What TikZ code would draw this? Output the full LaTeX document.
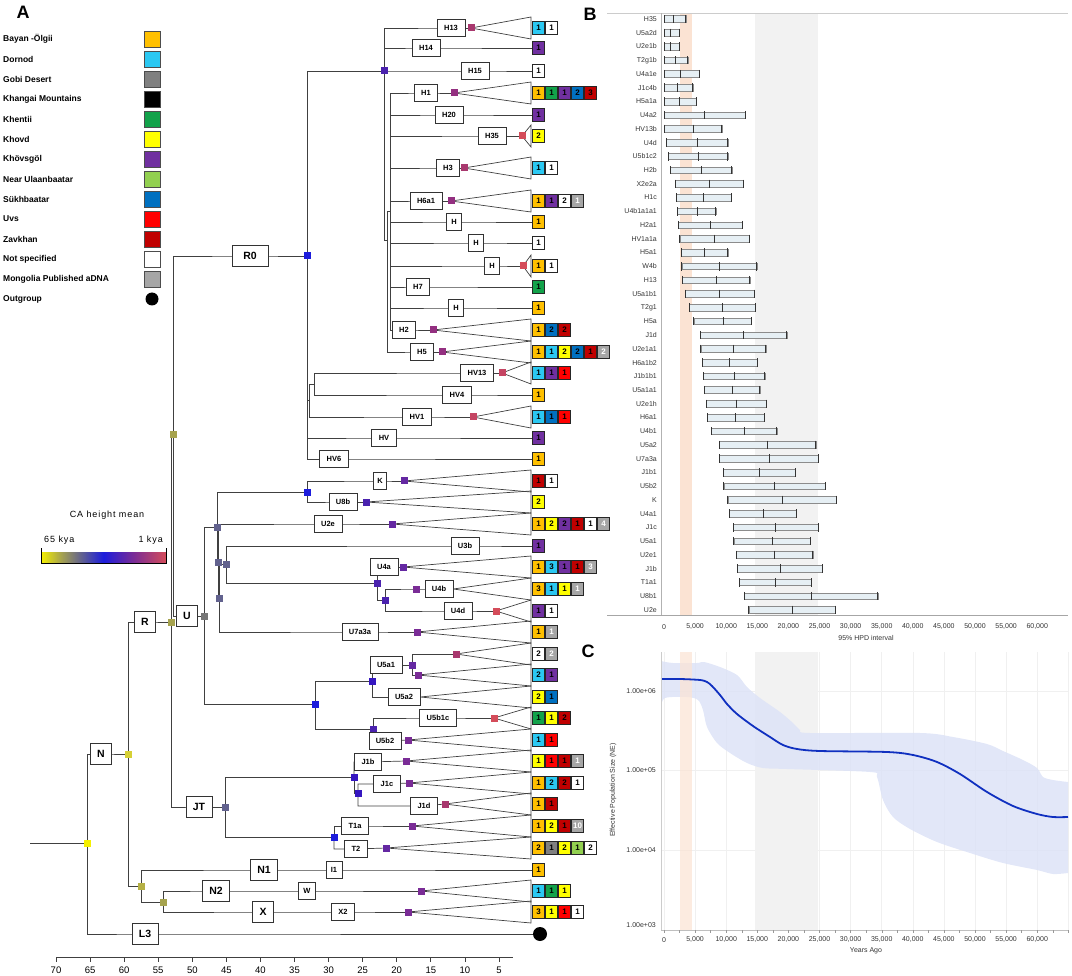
\documentclass[tikz,border=0pt]{standalone}
\usepackage{fontspec}
\setmainfont{Liberation Sans}
\newfontfamily\spaced[LetterSpace=10]{Liberation Sans}
\usetikzlibrary{backgrounds}

% region colours
\definecolor{BO}{HTML}{FFC000}
\definecolor{DO}{HTML}{2BC8F2}
\definecolor{GO}{HTML}{808080}
\definecolor{KM}{HTML}{000000}
\definecolor{KE}{HTML}{12A24A}
\definecolor{KH}{HTML}{FFFF00}
\definecolor{KV}{HTML}{7030A0}
\definecolor{NU}{HTML}{92D050}
\definecolor{SU}{HTML}{0070C0}
\definecolor{UV}{HTML}{FF0000}
\definecolor{ZA}{HTML}{C00000}
\definecolor{NS}{HTML}{FFFFFF}
\definecolor{MP}{HTML}{A6A6A6}
\colorlet{txBO}{black}\colorlet{txDO}{black}\colorlet{txGO}{black}
\colorlet{txKE}{black}\colorlet{txKH}{black}\colorlet{txKV}{black}
\colorlet{txNU}{black}\colorlet{txSU}{black}\colorlet{txUV}{black}
\colorlet{txZA}{black}\colorlet{txNS}{black}\colorlet{txMP}{white}
% node heights (65 kya -> 1 kya)
\definecolor{ha}{HTML}{F5F000}
\definecolor{hb}{HTML}{D6D035}
\definecolor{hc}{HTML}{B5B045}
\definecolor{hd}{HTML}{A6A34E}
\definecolor{he}{HTML}{767676}
\definecolor{hf}{HTML}{62628E}
\definecolor{hg}{HTML}{1C1CDC}
\definecolor{hh}{HTML}{3516C0}
\definecolor{hi}{HTML}{4A22AE}
\definecolor{hj}{HTML}{6428A2}
\definecolor{hk}{HTML}{7A2C96}
\definecolor{hl}{HTML}{932F80}
\definecolor{hm}{HTML}{A8386E}
\definecolor{hn}{HTML}{C44462}
\definecolor{ho}{HTML}{D44C5A}
\definecolor{medline}{HTML}{1030C0}
\definecolor{hpdband}{HTML}{DDE3F7}
\definecolor{peach}{HTML}{FBE3D3}
\definecolor{lgm}{HTML}{F2F2F2}
\definecolor{barfill}{HTML}{E6EFF4}

\pgfdeclarehorizontalshading{cabar}{100bp}{color(0bp)=(ha); color(25bp)=(ha);
  color(33bp)=(hd); color(41bp)=(hf); color(50bp)=(hg); color(62bp)=(hk);
  color(75bp)=(ho); color(100bp)=(ho)}

\newcommand{\tips}[3]{%
  \foreach \col/\cnt [count=\k from 0] in {#3}{%
    \node[tip, fill=\col, text=tx\col] (#1-\k) at (538.5+13*\k,#2) {\cnt};}}
\newcommand{\tri}[2]{\draw (#1) -- (531,#2-11) -- (531,#2+11) -- cycle;}

\begin{document}
\begin{tikzpicture}[x=1pt, y=-1pt,
  lab/.style={draw=black!80, fill=white, line width=0.6pt, font=\bfseries\fontsize{7.5}{9}\selectfont, inner xsep=7pt, inner ysep=1pt, minimum height=17pt},
  labs/.style={lab, inner xsep=5pt},
  big/.style={lab, font=\bfseries\fontsize{10.5}{12}\selectfont, minimum height=21pt, minimum width=21pt, inner xsep=7pt},
  sq/.style={rectangle, fill=#1, minimum size=7pt, inner sep=0pt},
  tip/.style={draw=black!85, line width=0.5pt, minimum width=12pt, minimum height=13pt, inner sep=0pt, font=\bfseries\fontsize{8}{8}\selectfont},
  legtxt/.style={anchor=west, inner sep=0pt, font=\bfseries\fontsize{8.5}{10}\selectfont},
  swatch/.style={draw=black!70, minimum size=16pt, inner sep=0pt},
  panel/.style={font=\bfseries\fontsize{18}{18}\selectfont, inner sep=0pt},
  hpdlab/.style={anchor=east, font=\fontsize{7}{8}\selectfont, text=black!80, inner sep=0pt},
  ax/.style={font=\fontsize{7}{8}\selectfont, text=black!80, inner sep=0pt}]
\useasboundingbox (0,0) rectangle (1072,976);

% ---------- panel A: legend
\node[panel] (pA) at (23,12) {A};
\foreach \col/\lgtxt [count=\i from 0] in {BO/Bayan -Ölgii, DO/Dornod, GO/Gobi Desert,
  KM/Khangai Mountains, KE/Khentii, KH/Khovd, KV/Khövsgöl, NU/Near Ulaanbaatar,
  SU/Sükhbaatar, UV/Uvs, ZA/Zavkhan, NS/Not specified, MP/Mongolia Published aDNA}{
  \node[legtxt] (lt\i) at (3,39+20*\i) {\lgtxt};
  \node[swatch, fill=\col] (ls\i) at (152,39+20*\i) {};
}
\node[legtxt] (lt13) at (3,299) {Outgroup};
\node[circle, fill=black, minimum size=13pt, inner sep=0pt] (ls13) at (152,299) {};

% colour bar
\node[font=\spaced\fontsize{9}{10}\selectfont] (cat) at (107,515) {CA height mean};
\node[font=\spaced\fontsize{9}{10}\selectfont, anchor=west, inner sep=0pt] (cak1) at (44,540) {65 kya};
\node[font=\spaced\fontsize{9}{10}\selectfont, anchor=east, inner sep=0pt] (cak2) at (163,540) {1 kya};
\shade[shading=cabar] (41,552) rectangle (166,563);
\draw[line width=0.6pt] (41,548) -- (41,563) -- (166,563) -- (166,548);

% ---------- tree: internal nodes
\node[sq=ha] (nRoot) at (87,843) {};
\node[sq=hb] (nN) at (128,754) {};
\node[sq=hc] (nNp) at (141,886) {};
\node[sq=hd] (nN2X) at (163,902) {};
\node[sq=hd] (nR) at (171,622) {};
\node[sq=hd] (nRU) at (173,435) {};
\node[sq=hg] (nR0) at (307,256) {};
\node[sq=hi] (nH) at (384,71) {};
\coordinate (nHs2) at (387,240);
\coordinate (nHs1) at (390,211);
\coordinate (nHVb) at (309,400);
\coordinate (nHVa) at (314,384);
\node[sq=he] (nU) at (204,616) {};
\node[sq=hf] (nUA) at (217,527) {};
\node[sq=hf] (nUB) at (218,562) {};
\node[sq=hf] (nUC) at (219,598) {};
\node[sq=hf] (nUD) at (226,564) {};
\node[sq=hg] (nK8) at (307,492) {};
\node[sq=hi] (nU4) at (377,583) {};
\node[sq=hi] (nU4bd) at (385,600) {};
\node[sq=hg] (nU5) at (315,704) {};
\node[sq=hh] (nU5a) at (372,681) {};
\node[sq=hj] (nU5a1) at (412,665) {};
\node[sq=hi] (nU5b) at (373,729) {};
\node[sq=hf] (nJT) at (225,807) {};
\node[sq=hh] (nJ1) at (354,777) {};
\node[sq=hh] (nJ1cd) at (358,793) {};
\node[sq=hg] (nT) at (334,837) {};
\coordinate (stem) at (30,843);

% big labels
\node[big, minimum width=36pt] (bR0) at (250,256) {R0};
\node[big] (bR) at (145,622) {R};
\node[big] (bU) at (187,616) {U};
\node[big] (bJT) at (199,807) {JT};
\node[big] (bN) at (101,754) {N};
\node[big] (bN1) at (264,870) {N1};
\node[big] (bN2) at (216,891) {N2};
\node[big] (bX) at (263,912) {X};
\node[big] (bL3) at (145,934) {L3};

% haplogroup rows
\node[lab] (bH13) at (451,28) {H13};      \node[sq=hm] (sH13) at (471,28) {};
\node[lab] (bH14) at (426,48) {H14};
\node[lab] (bH15) at (475,71) {H15};
\node[lab] (bH1) at (426,93) {H1};        \node[sq=hl] (sH1) at (454,93) {};
\node[lab] (bH20) at (449,115) {H20};
\node[lab] (bH35) at (492,136) {H35};     \node[sq=ho] (sH35) at (522,136) {};
\node[lab] (bH3) at (448,168) {H3};       \node[sq=hm] (sH3) at (464,168) {};
\node[lab] (bH6a1) at (426,201) {H6a1};   \node[sq=hl] (sH6a1) at (451,201) {};
\node[labs] (bHa) at (454,222) {H};
\node[labs] (bHb) at (476,243) {H};
\node[labs] (bHc) at (492,266) {H};       \node[sq=ho] (sHc) at (523,266) {};
\node[lab] (bH7) at (418,287) {H7};
\node[labs] (bHd) at (456,308) {H};
\node[lab] (bH2) at (404,330) {H2};       \node[sq=hl] (sH2) at (433,330) {};
\node[lab] (bH5) at (422,352) {H5};       \node[sq=hl] (sH5) at (442,352) {};
\node[lab] (bHV13) at (477,373) {HV13};   \node[sq=hn] (sHV13) at (502,373) {};
\node[lab] (bHV4) at (457,395) {HV4};
\node[lab] (bHV1) at (417,417) {HV1};     \node[sq=hn] (sHV1) at (473,417) {};
\node[lab] (bHV) at (384,438) {HV};
\node[lab] (bHV6) at (334,459) {HV6};
\node[labs, inner xsep=4pt] (bK) at (380,481) {K};  \node[sq=hj] (sK) at (404,481) {};
\node[lab] (bU8b) at (343,502) {U8b};     \node[sq=hi] (sU8b) at (366,502) {};
\node[lab] (bU2e) at (328,524) {U2e};     \node[sq=hj] (sU2e) at (392,524) {};
\node[lab] (bU3b) at (465,546) {U3b};
\node[lab] (bU4a) at (384,567) {U4a};     \node[sq=hj] (sU4a) at (403,567) {};
\node[sq=hk] (sU4b) at (416,589) {};      \node[lab] (bU4b) at (439,589) {U4b};
\node[lab] (bU4d) at (458,611) {U4d};     \node[sq=ho] (sU4d) at (496,611) {};
\node[lab] (bU7a3a) at (360,632) {U7a3a}; \node[sq=hk] (sU7a3a) at (417,632) {};
\node[sq=hm] (sU5c1) at (456,654) {};
\node[sq=hk] (sU5c2) at (418,675) {};
\node[lab] (bU5a1) at (386,665) {U5a1};
\node[lab] (bU5a2) at (404,697) {U5a2};
\node[lab] (bU5b1c) at (438,718) {U5b1c}; \node[sq=ho] (sU5b1c) at (494,718) {};
\node[lab] (bU5b2) at (385,741) {U5b2};   \node[sq=hk] (sU5b2) at (408,740) {};
\node[lab] (bJ1b) at (368,762) {J1b};     \node[sq=hk] (sJ1b) at (406,761) {};
\node[lab] (bJ1c) at (387,784) {J1c};     \node[sq=hk] (sJ1c) at (409,783) {};
\node[lab] (bJ1d) at (424,806) {J1d};     \node[sq=hm] (sJ1d) at (445,804) {};
\node[lab] (bT1a) at (355,826) {T1a};     \node[sq=hk] (sT1a) at (412,826) {};
\node[lab] (bT2) at (356,849) {T2};       \node[sq=hj] (sT2) at (386,848) {};
\node[labs] (bI1) at (334,870) {I1};
\node[labs] (bW) at (307,891) {W};        \node[sq=hk] (sW) at (421,891) {};
\node[lab] (bX2) at (343,912) {X2};       \node[sq=hk] (sX2) at (408,912) {};
\node[circle, fill=black, minimum size=14pt, inner sep=0pt] (dot) at (540,934) {};

% tip counts
\tips{tH13}{28}{DO/1,NS/1}
\tips{tH14}{48}{KV/1}
\tips{tH15}{71}{NS/1}
\tips{tH1}{93}{BO/1,KE/1,KV/1,SU/2,ZA/3}
\tips{tH20}{115}{KV/1}
\tips{tH35}{136}{KH/2}
\tips{tH3}{168}{DO/1,NS/1}
\tips{tH6a1}{201}{BO/1,KV/1,NS/2,MP/1}
\tips{tHa}{222}{BO/1}
\tips{tHb}{243}{NS/1}
\tips{tHc}{266}{BO/1,NS/1}
\tips{tH7}{287}{KE/1}
\tips{tHd}{308}{BO/1}
\tips{tH2}{330}{BO/1,SU/2,ZA/2}
\tips{tH5}{352}{BO/1,DO/1,KH/2,SU/2,ZA/1,MP/2}
\tips{tHV13}{373}{DO/1,KV/1,UV/1}
\tips{tHV4}{395}{BO/1}
\tips{tHV1}{417}{DO/1,SU/1,UV/1}
\tips{tHV}{438}{KV/1}
\tips{tHV6}{459}{BO/1}
\tips{tK}{481}{ZA/1,NS/1}
\tips{tU8b}{502}{KH/2}
\tips{tU2e}{524}{BO/1,KH/2,KV/2,ZA/1,NS/1,MP/4}
\tips{tU3b}{546}{KV/1}
\tips{tU4a}{567}{BO/1,DO/3,KV/1,ZA/1,MP/3}
\tips{tU4b}{589}{BO/3,DO/1,KH/1,MP/1}
\tips{tU4d}{611}{KV/1,NS/1}
\tips{tU7a3a}{632}{BO/1,MP/1}
\tips{tU5c1}{654}{NS/2,MP/2}
\tips{tU5c2}{675}{DO/2,KV/1}
\tips{tU5a2}{697}{KH/2,SU/1}
\tips{tU5b1c}{718}{KE/1,KH/1,ZA/2}
\tips{tU5b2}{740}{DO/1,UV/1}
\tips{tJ1b}{761}{KH/1,UV/1,ZA/1,MP/1}
\tips{tJ1c}{783}{BO/1,DO/2,ZA/2,NS/1}
\tips{tJ1d}{804}{BO/1,ZA/1}
\tips{tT1a}{826}{BO/1,KH/2,ZA/1,MP/10}
\tips{tT2}{848}{BO/2,GO/1,KH/2,NU/1,NS/2}
\tips{tN1}{870}{BO/1}
\tips{tW}{891}{DO/1,KE/1,KH/1}
\tips{tX2}{912}{BO/3,KH/1,UV/1,NS/1}

% branches
\begin{pgfonlayer}{background}
\begin{scope}[line width=0.7pt, draw=black!75]
\draw (stem) -- (nRoot.center);
\draw (nRoot.center) |- (bN.center) -- (nN.center);
\draw (nRoot.center) |- (bL3.center) -- (dot.center);
\draw (nN.center) |- (bR.center) -- (nR.center);
\draw (nN.center) |- (nNp.center);
\draw (nNp.center) |- (bN1.center) -- (bI1.center) -- (tN1-0.center);
\draw (nNp.center) |- (nN2X.center);
\draw (nN2X.center) |- (bN2.center) -- (bW.center) -- (sW.center);
\draw (nN2X.center) |- (bX.center) -- (bX2.center) -- (sX2.center);
\draw (nR.center) |- (nRU.center);
\draw (nR.center) |- (bJT.center) -- (nJT.center);
\draw (nRU.center) |- (bR0.center) -- (nR0.center);
\draw (nRU.center) |- (bU.center) -- (nU.center);
% R0
\draw (nR0.center) |- (nH.center);
\draw (nR0.center) |- (nHVb);
\draw (nR0.center) |- (bHV.center) -- (tHV-0.center);
\draw (nR0.center) |- (bHV6.center) -- (tHV6-0.center);
\draw (nHVb) |- (nHVa);
\draw (nHVb) |- (bHV1.center) -- (sHV1.center);
\draw (nHVa) |- (bHV13.center) -- (sHV13.center);
\draw (nHVa) |- (bHV4.center) -- (tHV4-0.center);
\draw (nH.center) -- (bH15.center) -- (tH15-0.center);
\draw (nH.center) |- (bH13.center) -- (sH13.center);
\draw (nH.center) |- (bH14.center) -- (tH14-0.center);
\draw (nH.center) |- (nHs2);
\draw (nHs2) |- (nHs1);
\draw (nHs2) |- (bH5.center) -- (sH5.center);
\draw (nHs1) |- (bH1.center) -- (sH1.center);
\draw (nHs1) |- (bH20.center) -- (tH20-0.center);
\draw (nHs1) |- (bH35.center) -- (sH35.center);
\draw (nHs1) |- (bH3.center) -- (sH3.center);
\draw (nHs1) |- (bH6a1.center) -- (sH6a1.center);
\draw (nHs1) |- (bHa.center) -- (tHa-0.center);
\draw (nHs1) |- (bHb.center) -- (tHb-0.center);
\draw (nHs1) |- (bHc.center) -- (sHc.center);
\draw (nHs1) |- (bH7.center) -- (tH7-0.center);
\draw (nHs1) |- (bHd.center) -- (tHd-0.center);
\draw (nHs1) |- (bH2.center) -- (sH2.center);
% U
\draw (nU.center) |- (nUA.center);
\draw (nU.center) |- (nU5.center);
\draw (nUA.center) |- (nK8.center);
\draw (nUA.center) |- (nUB.center);
\draw (nK8.center) |- (bK.center) -- (sK.center);
\draw (nK8.center) |- (bU8b.center) -- (sU8b.center);
\draw (nUB.center) |- (bU2e.center) -- (sU2e.center);
\draw (nUB.center) |- (nUC.center);
\draw (nUC.center) |- (nUD.center);
\draw (nUC.center) |- (bU7a3a.center) -- (sU7a3a.center);
\draw (nUD.center) |- (bU3b.center) -- (tU3b-0.center);
\draw (nUD.center) |- (nU4.center);
\draw (nU4.center) |- (bU4a.center) -- (sU4a.center);
\draw (nU4.center) |- (nU4bd.center);
\draw (nU4bd.center) |- (sU4b.center) -- (bU4b.center);
\draw (nU4bd.center) |- (bU4d.center) -- (sU4d.center);
\draw (nU5.center) |- (nU5a.center);
\draw (nU5.center) |- (nU5b.center);
\draw (nU5a.center) |- (bU5a1.center) -- (nU5a1.center);
\draw (nU5a.center) |- (bU5a2.center);
\draw (nU5a1.center) |- (sU5c1.center);
\draw (nU5a1.center) |- (sU5c2.center);
\draw (nU5b.center) |- (bU5b1c.center) -- (sU5b1c.center);
\draw (nU5b.center) |- (bU5b2.center) -- (sU5b2.center);
% JT
\draw (nJT.center) |- (nJ1.center);
\draw (nJT.center) |- (nT.center);
\draw (nJ1.center) |- (bJ1b.center) -- (sJ1b.center);
\draw (nJ1.center) |- (nJ1cd.center);
\draw (nJ1cd.center) |- (bJ1c.center) -- (sJ1c.center);
\draw (nJ1cd.center) |- (bJ1d.center) -- (sJ1d.center);
\draw (nT.center) |- (bT1a.center) -- (sT1a.center);
\draw (nT.center) |- (bT2.center) -- (sT2.center);
% collapsed clades
\tri{sH13.center}{28}
\tri{sH1.center}{93}
\tri{sH35.center}{136}
\tri{sH3.center}{168}
\tri{sH6a1.center}{201}
\tri{sHc.center}{266}
\tri{sH2.center}{330}
\tri{sH5.center}{352}
\tri{sHV13.center}{373}
\tri{sHV1.center}{417}
\tri{sK.center}{481}
\tri{sU8b.center}{502}
\tri{sU2e.center}{524}
\tri{sU4a.center}{567}
\tri{bU4b.east}{589}
\tri{sU4d.center}{611}
\tri{sU7a3a.center}{632}
\tri{sU5c1.center}{654}
\tri{sU5c2.center}{675}
\tri{bU5a2.east}{697}
\tri{sU5b1c.center}{718}
\tri{sU5b2.center}{740}
\tri{sJ1b.center}{761}
\tri{sJ1c.center}{783}
\tri{sJ1d.center}{804}
\tri{sT1a.center}{826}
\tri{sT2.center}{848}
\tri{sW.center}{891}
\tri{sX2.center}{912}
\end{scope}
\end{pgfonlayer}

% time axis (kya)
\draw[line width=0.6pt, black!75] (56,957) -- (513,957);
\foreach \age in {70,65,...,5}{
  \draw[line width=0.6pt, black!75] (533-6.814*\age,957) -- ++(0,5);
  \node[font=\fontsize{9.5}{10}\selectfont, inner sep=0pt] (tk\age) at (533-6.814*\age,970) {\age};
}

% ---------- panel B: 95% HPD intervals
\node[panel] (pB) at (590,14) {B};
\fill[peach] (680,13) rectangle (692,615);
\fill[lgm] (755,13) rectangle (818,615);
\draw[black!20, line width=0.5pt] (607,13) -- (1068,13);
\draw[black!30, line width=0.5pt] (661,13) -- (661,615);
\draw[black!35, line width=0.5pt] (607,615) -- (1068,615);
\foreach \lab/\lo/\mn/\hi [count=\i from 0] in {
  H35/0/1.6/3.5, U5a2d/0/1.07/2.5, U2e1b/0/1.07/2.5, T2g1b/0/1.77/3.85,
  U4a1e/0/2.73/5.72, J1c4b/0/2.19/4.65, H5a1a/0.1/2.57/5.24, U4a2/0.1/6.58/13.05,
  HV13b/0.1/4.82/9.31, U4d/0.43/5.46/10.27, U5b1c2/0.7/5.56/10.27, H2b/1.02/5.99/10.91,
  X2e2a/1.87/7.33/12.73, H1c/1.98/6.42/10.86, U4b1a1a1/2.19/5.35/8.35, H2a1/2.3/7.44/12.57,
  HV1a1a/2.57/8.13/13.7, H5a1/2.78/6.58/10.27, W4b/2.89/8.99/14.93, H13/3.0/8.45/13.8,
  U5a1b1/3.42/8.99/14.55, T2g1/4.07/9.42/14.71, H5a/4.82/9.52/14.07, J1d/5.89/12.84/19.74,
  U2e1a1/5.94/11.24/16.37, H6a1b2/6.21/10.6/14.98, J1b1b1/6.31/11.34/16.21, U5a1a1/6.53/10.97/15.41,
  U2e1h/6.85/11.72/16.48, H6a1/7.01/11.56/16.16, U4b1/7.65/12.95/18.14, U5a2/8.93/16.69/24.4,
  U7a3a/8.93/16.91/24.77, J1b1/9.52/15.41/21.08, U5b2/9.63/17.82/25.95, K/10.27/18.99/27.71,
  U4a1/10.54/15.94/21.29, J1c/11.18/17.98/24.82, U5a1/11.24/17.44/23.54, U2e1/11.61/17.82/23.91,
  J1b/11.77/18.72/25.41, T1a1/12.14/17.92/23.65, U8b1/12.95/23.65/34.4, U2e/13.64/20.65/27.6}{
  \pgfmathsetmacro{\yy}{19+13.74*\i}
  \node[hpdlab] (hl\i) at (657,\yy) {\lab};
  \filldraw[fill=barfill, draw=black!45, line width=0.4pt] (664+6.22*\lo,\yy-3.3) rectangle (664+6.22*\hi,\yy+3.3);
  \draw[black!80, line width=1pt] (664+6.22*\lo,\yy-4.2) -- ++(0,8.4)
    (664+6.22*\mn,\yy-4.2) -- ++(0,8.4) (664+6.22*\hi,\yy-4.2) -- ++(0,8.4);
}
\foreach \v/\s [count=\i from 0] in {0/0, 5/{5,000}, 10/{10,000}, 15/{15,000}, 20/{20,000},
  25/{25,000}, 30/{30,000}, 35/{35,000}, 40/{40,000}, 45/{45,000}, 50/{50,000},
  55/{55,000}, 60/{60,000}}{
  \node[ax] (bx\i) at (664+6.22*\v,627) {\s};
  \node[ax] (cx\i) at (664+6.22*\v,940) {\s};
}
\node[ax] (bxt) at (866,638) {95\% HPD interval};

% ---------- panel C: skyline
\node[panel] (pC) at (588,651) {C};
\foreach \v in {0,5,...,65}{
  \draw[black!6, line width=0.5pt] (664+6.22*\v,652) -- (664+6.22*\v,930);
}
\foreach \yv in {691,770,850}{
  \draw[black!6, line width=0.5pt] (661,\yv) -- (1068,\yv);
}
\fill[lgm] (755,652) rectangle (818,930);
\fill[hpdband, opacity=0.85] plot[smooth] coordinates {(661,661) (673,663) (697,663) (704,662)
  (720,667) (737,675) (747,687) (760,698) (780,712) (793,723) (800,730) (810,733) (920,733)
  (953,737) (987,744) (1003,751) (1023,760) (1037,768) (1043,777) (1053,780) (1068,782)}
  -- plot[smooth] coordinates {(1068,873) (1053,874) (1037,870) (1003,863) (970,853) (937,842)
  (910,829) (893,817) (883,800) (877,777) (870,772) (787,769) (763,768) (747,763) (730,753)
  (717,743) (707,727) (703,710) (698,700) (687,697) (665,698) (661,707)} -- cycle;
\fill[peach, opacity=0.7] (680,652) rectangle (692,930);
\draw[medline, line width=1.8pt] plot[smooth] coordinates {(661,679) (680,679) (700,680) (707,682)
  (712,686) (720,695) (727,704) (737,714) (753,726) (770,737) (783,745) (797,749) (820,751)
  (887,752) (913,755) (937,762) (960,774) (987,792) (1013,806) (1037,814) (1053,817) (1068,817)};
\draw[black!20, line width=0.5pt] (661,652) -- (661,930);
\draw[black!25, line width=0.5pt] (661,930) -- (1068,930);
\foreach \v in {0,2.5,...,65}{
  \draw[black!40, line width=0.4pt] (664+6.22*\v,930) -- ++(0,2.5);
}
\foreach \yv/\s in {691/1.00e+06, 770/1.00e+05, 850/1.00e+04, 925/1.00e+03}{
  \node[ax, anchor=east] (cy\yv) at (656,\yv) {\s};
}
\node[ax] (cxt) at (866,951) {Years Ago};
\node[ax, rotate=90] (cyt) at (613,790) {Effective Population Size (NE)};
\end{tikzpicture}
\end{document}
